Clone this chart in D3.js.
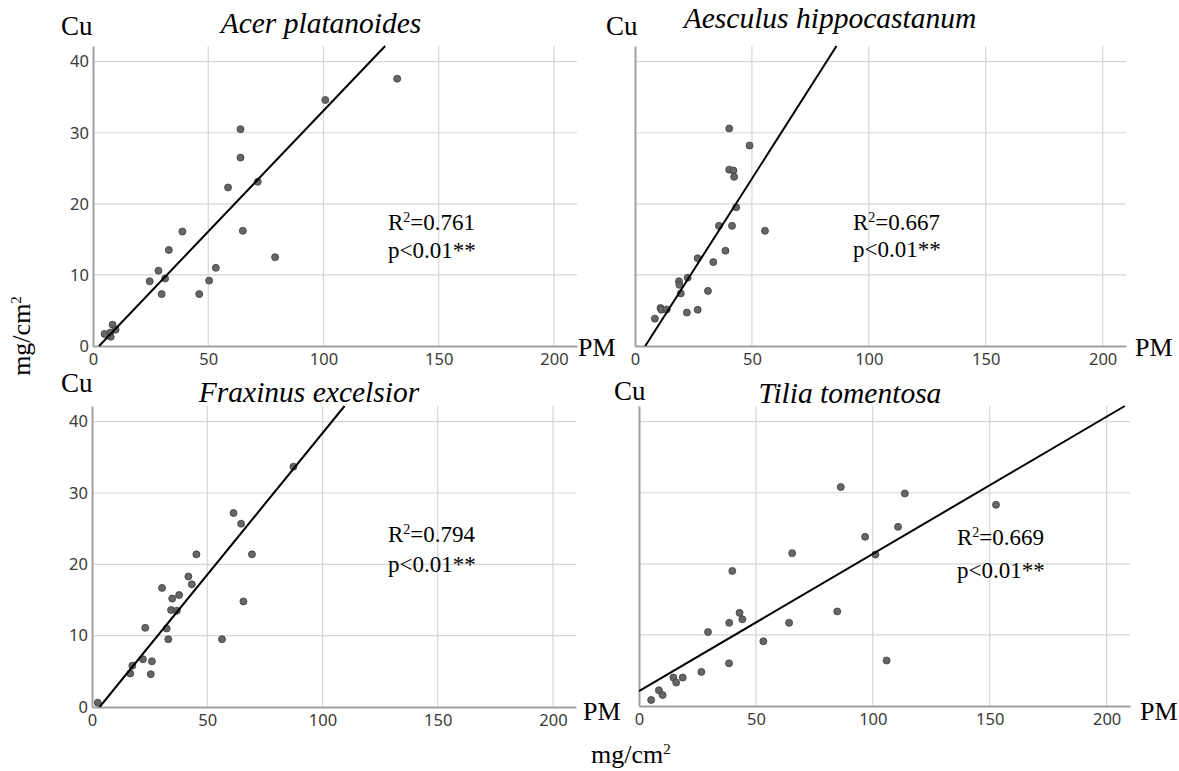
<!DOCTYPE html>
<html>
<head>
<meta charset="utf-8">
<script src="https://cdn.jsdelivr.net/npm/d3@7"></script>
<style>
  body { margin: 0; background: #fff; }
  svg { display: block; }
</style>
</head>
<body>
<svg id="chart" width="1179" height="771"></svg>
<script>
// values: PM (x) and Cu (y), mg/cm2
var acerPM = [5, 7.5, 8.5, 9.8, 7.7, 24.6, 28.4, 29.8, 31.3, 32.9, 38.8, 46.1, 50.4, 53.3, 58.6, 64, 64, 71.5, 65, 79, 100.8, 132];
var acerCu = [1.7, 1.9, 3.0, 2.3, 1.3, 9.1, 10.6, 7.3, 9.5, 13.5, 16.1, 7.3, 9.2, 11.0, 22.3, 30.5, 26.5, 23.1, 16.2, 12.5, 34.6, 37.6];

var aesculusPM = [8.5, 10.9, 11.3, 13.6, 18.8, 19, 19.6, 22.5, 22.2, 26.8, 26.8, 31.2, 33.5, 35.9, 38.7, 41.5, 43.3, 40.3, 42.1, 42.4, 40.3, 49, 55.6];
var aesculusCu = [3.85, 5.35, 5.1, 5.15, 9.1, 8.6, 7.4, 9.6, 4.7, 5.1, 12.35, 7.75, 11.8, 16.9, 13.4, 16.9, 19.5, 24.8, 24.7, 23.8, 30.6, 28.2, 16.2];

var fraxinusPM = [2.5, 16.6, 17.5, 22.1, 25.5, 26, 23.1, 32.4, 33.1, 30.4, 34.3, 34.8, 36.8, 37.8, 41.8, 43.3, 45.3, 56.4, 61.4, 64.7, 65.7, 69.4, 87.4];
var fraxinusCu = [0.6, 4.7, 5.8, 6.7, 4.6, 6.4, 11.1, 11.0, 9.5, 16.7, 13.6, 15.2, 13.5, 15.7, 18.3, 17.2, 21.4, 9.5, 27.2, 25.7, 14.8, 21.4, 33.7];

var tiliaPM = [5.2, 8.5, 10.1, 14.7, 15.9, 18.7, 26.7, 29.5, 38.5, 38.6, 39.9, 43, 44.2, 53.2, 64.2, 65.5, 84.8, 86.3, 96.7, 101.1, 105.9, 110.8, 113.7, 152.7];
var tiliaCu = [0.85, 2.2, 1.55, 4.0, 3.3, 4.0, 4.8, 10.4, 6.0, 11.7, 19.0, 13.1, 12.2, 9.1, 11.7, 21.5, 13.3, 30.8, 23.8, 21.3, 6.4, 25.2, 29.9, 28.3];

var species = ["Acer platanoides", "Aesculus hippocastanum", "Fraxinus excelsior", "Tilia tomentosa"];
var r2Labels = ["0.761", "0.667", "0.794", "0.669"];
var fitIntercept = [-0.9, -2.27, -1.31, 2.1];
var fitSlope = [0.34, 0.516, 0.397, 0.193];

var xTicks = [0, 50, 100, 150, 200];
var yTicks = [0, 10, 20, 30, 40];

var allPM = [acerPM, aesculusPM, fraxinusPM, tiliaPM];
var allCu = [acerCu, aesculusCu, fraxinusCu, tiliaCu];

// layout of the four panels (pixels)
var panels = [
  { x0: 93,  x1: 577,  y0: 346, y1: 46,  yLabels: true,  cu: [61, 35],  title: [321, 33],  stat: [388, 230, 258], pm: [578, 356] },
  { x0: 635, x1: 1126, y0: 346, y1: 46,  yLabels: false, cu: [606, 35], title: [830, 28],  stat: [853, 230, 257], pm: [1135, 356] },
  { x0: 92,  x1: 576,  y0: 707, y1: 406, yLabels: true,  cu: [61, 392], title: [309, 402], stat: [388, 542, 572], pm: [583, 720] },
  { x0: 639, x1: 1130, y0: 706, y1: 406, yLabels: false, cu: [614, 400], title: [850, 403], stat: [957, 545, 578], pm: [1140, 720] }
];

var xMax = 210, yMax = 42.2;
var serif = "'Liberation Serif', 'Times New Roman', serif";
var sans = "'Noto Sans', 'DejaVu Sans', sans-serif";

var svg = d3.select("#chart");

panels.forEach(function(p, i) {
  var x = d3.scaleLinear().domain([0, xMax]).range([p.x0, p.x1]);
  var y = d3.scaleLinear().domain([0, yMax]).range([p.y0, p.y1]);
  var g = svg.append("g");

  // grid
  g.selectAll("line.hgrid").data(yTicks.slice(1)).enter().append("line")
    .attr("x1", p.x0).attr("x2", p.x1)
    .attr("y1", function(d) { return y(d); }).attr("y2", function(d) { return y(d); })
    .attr("stroke", "#d6d6d6").attr("stroke-width", 1.2);
  g.selectAll("line.vgrid").data(xTicks.slice(1)).enter().append("line")
    .attr("y1", p.y0).attr("y2", p.y1)
    .attr("x1", function(d) { return x(d); }).attr("x2", function(d) { return x(d); })
    .attr("stroke", "#d6d6d6").attr("stroke-width", 1.2);

  // axes
  var xAxis = g.append("g").attr("transform", "translate(0," + p.y0 + ")")
    .call(d3.axisBottom(x).tickValues(xTicks).tickSize(0).tickPadding(7));
  xAxis.select(".domain").attr("stroke", "#a0a0a0").attr("stroke-width", 2);
  xAxis.selectAll("text").attr("font-family", sans).attr("font-size", 16.5).attr("fill", "#3a3a3a");

  var yAxis = g.append("g").attr("transform", "translate(" + p.x0 + ",0)")
    .call(d3.axisLeft(y).tickValues(yTicks).tickSize(0).tickPadding(4));
  yAxis.select(".domain").attr("stroke", "#a0a0a0").attr("stroke-width", 2);
  yAxis.selectAll("text").attr("font-family", sans).attr("font-size", 16.5).attr("fill", "#3a3a3a")
    .style("display", p.yLabels ? null : "none");

  // points
  g.selectAll("circle").data(d3.range(allPM[i].length)).enter().append("circle")
    .attr("cx", function(k) { return x(allPM[i][k]); })
    .attr("cy", function(k) { return y(allCu[i][k]); })
    .attr("r", 3.5)
    .attr("fill", "#666").attr("stroke", "#3c3c3c").attr("stroke-width", 0.8);

  // fit line clipped to the plot
  var b = fitIntercept[i], m = fitSlope[i];
  var xa = Math.max(0, -b / m), xb = Math.min(xMax, (yMax - b) / m);
  g.append("line")
    .attr("x1", x(xa)).attr("y1", y(b + m * xa))
    .attr("x2", x(xb)).attr("y2", y(b + m * xb))
    .attr("stroke", "#000").attr("stroke-width", 2);

  // texts
  g.append("text").attr("x", p.cu[0]).attr("y", p.cu[1])
    .attr("font-family", serif).attr("font-size", 27).text("Cu");
  g.append("text").attr("x", p.title[0]).attr("y", p.title[1])
    .attr("text-anchor", "middle").attr("font-family", serif).attr("font-style", "italic")
    .attr("font-size", 29.5).text(species[i]);
  var st = g.append("text").attr("x", p.stat[0]).attr("y", p.stat[1])
    .attr("font-family", serif).attr("font-size", 23);
  st.append("tspan").text("R");
  st.append("tspan").attr("dy", -8).attr("font-size", 14).text("2");
  st.append("tspan").attr("dy", 8).text("=" + r2Labels[i]);
  g.append("text").attr("x", p.stat[0]).attr("y", p.stat[2])
    .attr("font-family", serif).attr("font-size", 23).text("p<0.01**");
  g.append("text").attr("x", p.pm[0]).attr("y", p.pm[1])
    .attr("font-family", serif).attr("font-size", 26).text("PM");
});

// shared unit labels
var yl = svg.append("text").attr("transform", "translate(30,336) rotate(-90)")
  .attr("text-anchor", "middle").attr("font-family", serif).attr("font-size", 26);
yl.append("tspan").text("mg/cm");
yl.append("tspan").attr("dy", -9).attr("font-size", 15).text("2");

var xl = svg.append("text").attr("x", 591).attr("y", 763)
  .attr("font-family", serif).attr("font-size", 26);
xl.append("tspan").text("mg/cm");
xl.append("tspan").attr("dy", -9).attr("font-size", 15).text("2");
</script>
</body>
</html>
